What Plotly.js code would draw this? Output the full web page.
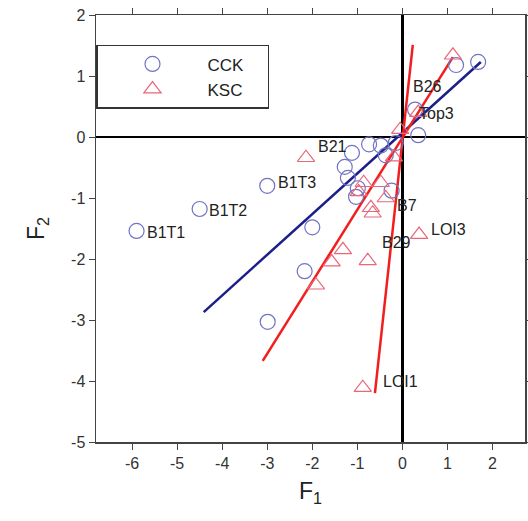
<!DOCTYPE html>
<html>
<head>
<meta charset="utf-8">
<script src="https://cdn.plot.ly/plotly-3.0.1.min.js"></script>
<style>
  html, body { margin: 0; padding: 0; background: #fff; }
  #chart { width: 528px; height: 521px; }
</style>
</head>
<body>
<div id="chart"></div>
<script>
// Factor scores (F1, F2) for the two sample groups
const cckF1 = [-5.9, -4.5, -3.0, -2.0, -2.17, -2.99, -1.12, -1.28, -0.74, -0.48, -0.37, -1.21, -0.99, -1.03, -0.24, 0.35, 0.28, 1.19, 1.68, -0.15];
const cckF2 = [-1.54, -1.18, -0.80, -1.48, -2.2, -3.03, -0.26, -0.49, -0.12, -0.14, -0.3, -0.67, -0.84, -0.98, -0.88, 0.03, 0.45, 1.18, 1.23, -0.1];

const kscF1 = [1.12, 0.35, -2.14, -0.86, -0.48, -0.97, -0.7, -0.66, -0.37, -0.19, -1.32, -1.57, -0.77, -1.92, -0.88, 0.37, -0.05];
const kscF2 = [1.34, 0.40, -0.34, -0.75, -0.75, -0.9, -1.16, -1.25, -1.0, -0.33, -1.85, -2.05, -2.03, -2.43, -4.11, -1.6, 0.12];

// Trend lines (end points)
const cckLineF1 = [-4.41, 1.74];
const cckLineF2 = [-2.87, 1.23];
const kscLineAF1 = [-3.1, 1.12];
const kscLineAF2 = [-3.67, 1.31];
const kscLineBF1 = [-0.61, 0.23];
const kscLineBF2 = [-4.2, 1.51];

// Sample labels and their anchor positions
const labelText = ["B1T1", "B1T2", "B1T3", "B21", "B26", "Top3", "B7", "B29", "LOI3", "LOI1"];
const labelF1 = [-5.72, -4.33, -2.8, -1.92, 0.18, 0.33, -0.16, -0.5, 0.58, -0.48];
const labelF2 = [-1.56, -1.2, -0.75, -0.15, 0.82, 0.38, -1.12, -1.73, -1.52, -4.0];

const xTicks = [-6, -5, -4, -3, -2, -1, 0, 1, 2];
const yTicks = [-5, -4, -3, -2, -1, 0, 1, 2];
// tick labels written with a plain hyphen
const fmt = v => String(v);

const FONT = "Liberation Sans, Arial, sans-serif";
const PAD = "\u00A0\u00A0\u00A0\u00A0";

const traces = [
  {
    x: cckLineF1, y: cckLineF2, mode: "lines", showlegend: false, hoverinfo: "skip",
    line: { color: "#1c1f8a", width: 2.5 }
  },
  {
    x: kscLineAF1, y: kscLineAF2, mode: "lines", showlegend: false, hoverinfo: "skip",
    line: { color: "#f21e1e", width: 2.5 }
  },
  {
    x: kscLineBF1, y: kscLineBF2, mode: "lines", showlegend: false, hoverinfo: "skip",
    line: { color: "#f21e1e", width: 2.5 }
  },
  {
    name: "CCK" + PAD, x: cckF1, y: cckF2, mode: "markers",
    marker: { symbol: "circle-open", size: 15, color: "#6f74c4", line: { width: 1.2 } }
  },
  {
    name: "KSC" + PAD, x: kscF1, y: kscF2, mode: "markers",
    marker: { symbol: "triangle-up-open", size: 15, color: "#e8687a", line: { width: 1.2 } }
  }
];

const annotations = labelText.map((t, i) => ({
  x: labelF1[i], y: labelF2[i], text: t, showarrow: false,
  xanchor: "left", yanchor: "middle",
  font: { family: FONT, size: 16, color: "#222" }
}));

const layout = {
  width: 528, height: 521,
  margin: { l: 96, r: 3, t: 15, b: 79 },
  paper_bgcolor: "#fff", plot_bgcolor: "#fff",
  font: { family: FONT, color: "#333" },
  xaxis: {
    range: [-6.8, 2.72], tickvals: xTicks, ticktext: xTicks.map(fmt),
    ticks: "outside", ticklen: 6, tickcolor: "#444",
    showline: true, linecolor: "#444", linewidth: 1.5, mirror: "ticks",
    showgrid: false, zeroline: true, zerolinecolor: "#000", zerolinewidth: 2.5,
    tickfont: { size: 16, color: "#333" },
    title: { text: "F<sub>1</sub>", font: { size: 23, color: "#222" }, standoff: 12 }
  },
  yaxis: {
    range: [-5, 2], tickvals: yTicks, ticktext: yTicks.map(fmt),
    ticks: "outside", ticklen: 6, tickcolor: "#444",
    showline: true, linecolor: "#444", linewidth: 1.5, mirror: "ticks",
    showgrid: false, zeroline: true, zerolinecolor: "#000", zerolinewidth: 2.5,
    tickfont: { size: 16, color: "#333" },
    title: { text: "F<sub>2</sub>", font: { size: 23, color: "#222" }, standoff: 20 }
  },
  showlegend: true,
  legend: {
    x: 0, y: 0.93, xanchor: "left", yanchor: "top",
    bgcolor: "#fff", bordercolor: "#333", borderwidth: 1.5,
    itemwidth: 100,
    font: { family: FONT, size: 17, color: "#222" }
  },
  annotations: annotations
};

Plotly.newPlot("chart", traces, layout, { displayModeBar: false, staticPlot: true });
</script>
</body>
</html>
